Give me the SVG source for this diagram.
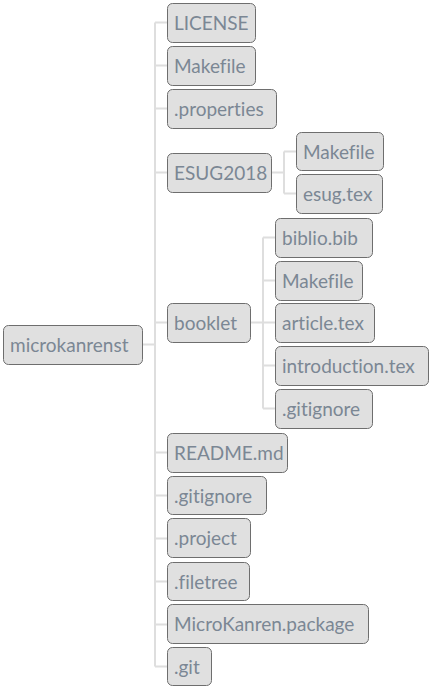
<svg xmlns="http://www.w3.org/2000/svg" width="430" height="687" viewBox="0 0 430 687">
<style>
.n rect{fill:#e0e0e0;stroke:#6e6e6e;stroke-width:1}
.n text{font-family:"Lato","Liberation Sans",sans-serif;font-size:19px;fill:#7b8794;font-variant-ligatures:none;font-feature-settings:"liga" 0}
#connectors path{fill:none;stroke:#dedede;stroke-width:2}
</style>
<rect width="430" height="687" fill="#ffffff"/>
<g id="connectors">
<path d="M142 344.5H155M155 22.5V666.5M155 22.5H167M155 65.5H167M155 108.5H167M155 172.5H167M155 322.5H167M155 452.5H167M155 495.5H167M155 538.5H167M155 581.5H167M155 624.5H167M155 666.5H167"/>
<path d="M271 172.5H284M284 151.5V193.5M284 151.5H296M284 193.5H296"/>
<path d="M250 322.5H263M263 237.5V408.5M263 237.5H275M263 280.5H275M263 322.5H275M263 365.5H275M263 408.5H275"/>
</g>
<g id="root" class="n"><rect x="3.5" y="325.5" width="139" height="39" rx="5"/><text x="10" y="352">microkanrenst</text></g>
<g id="license" class="n"><rect x="167.5" y="3.5" width="88" height="39" rx="5"/><text x="174" y="30">LICENSE</text></g>
<g id="makefile" class="n"><rect x="167.5" y="46.5" width="88" height="39" rx="5"/><text x="174" y="73">Makefile</text></g>
<g id="properties" class="n"><rect x="167.5" y="89.5" width="109" height="39" rx="5"/><text x="174" y="116">.properties</text></g>
<g id="esug2018" class="n"><rect x="167.5" y="153.5" width="104" height="39" rx="5"/><text x="174" y="180">ESUG2018</text></g>
<g id="esug-makefile" class="n"><rect x="296.5" y="132.5" width="87" height="38" rx="5"/><text x="303" y="159">Makefile</text></g>
<g id="esug-tex" class="n"><rect x="296.5" y="174.5" width="86" height="39" rx="5"/><text x="303" y="201">esug.tex</text></g>
<g id="booklet" class="n"><rect x="167.5" y="303.5" width="83" height="39" rx="5"/><text x="174" y="330">booklet</text></g>
<g id="biblio" class="n"><rect x="275.5" y="218.5" width="97" height="39" rx="5"/><text x="282" y="245">biblio.bib</text></g>
<g id="booklet-makefile" class="n"><rect x="275.5" y="261.5" width="87" height="39" rx="5"/><text x="282" y="288">Makefile</text></g>
<g id="article" class="n"><rect x="275.5" y="303.5" width="99" height="39" rx="5"/><text x="282" y="330">article.tex</text></g>
<g id="introduction" class="n"><rect x="275.5" y="346.5" width="153" height="39" rx="5"/><text x="282" y="373">introduction.tex</text></g>
<g id="booklet-gitignore" class="n"><rect x="275.5" y="389.5" width="97" height="39" rx="5"/><text x="282" y="416">.gitignore</text></g>
<g id="readme" class="n"><rect x="167.5" y="433.5" width="120" height="39" rx="5"/><text x="174" y="460">README.md</text></g>
<g id="gitignore" class="n"><rect x="167.5" y="476.5" width="99" height="38" rx="5"/><text x="174" y="503">.gitignore</text></g>
<g id="project" class="n"><rect x="167.5" y="518.5" width="83" height="39" rx="5"/><text x="174" y="545">.project</text></g>
<g id="filetree" class="n"><rect x="167.5" y="562.5" width="82" height="38" rx="5"/><text x="174" y="589">.filetree</text></g>
<g id="package" class="n"><rect x="167.5" y="604.5" width="201" height="39" rx="5"/><text x="174" y="631">MicroKanren.package</text></g>
<g id="git" class="n"><rect x="167.5" y="647.5" width="44" height="38" rx="5"/><text x="174" y="674">.git</text></g>
</svg>
